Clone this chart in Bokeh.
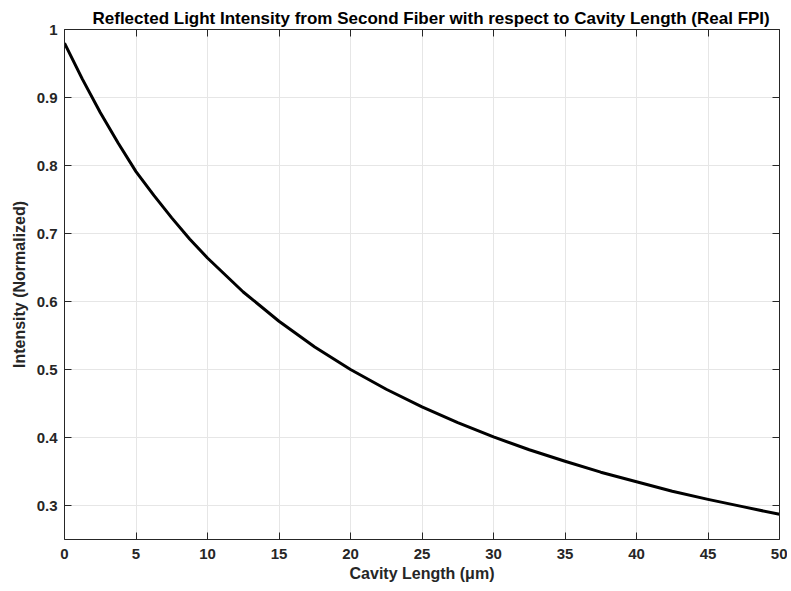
from bokeh.plotting import figure
from bokeh.models import LinearAxis, Range1d, FixedTicker, Title
from bokeh.embed import file_html
from bokeh.resources import INLINE

cavity_um = [0, 1.25, 2.5, 3.75, 5, 6.25, 7.5, 8.75, 10, 12.5, 15, 17.5, 20, 22.5, 25,
             27.5, 30, 32.5, 35, 37.5, 40, 42.5, 45, 47.5, 50]
intensity = [0.980, 0.927, 0.878, 0.833, 0.791, 0.756, 0.723, 0.692, 0.664, 0.614,
             0.571, 0.533, 0.500, 0.471, 0.445, 0.422, 0.401, 0.382, 0.365, 0.349,
             0.335, 0.321, 0.309, 0.298, 0.287]
x_ticks = [0, 5, 10, 15, 20, 25, 30, 35, 40, 45, 50]
y_ticks = [0.3, 0.4, 0.5, 0.6, 0.7, 0.8, 0.9, 1.0]

FONT = "Liberation Sans"
AX = "#262626"

p = figure(width=787, height=589, output_backend="svg", toolbar_location=None,
           x_range=Range1d(0, 50), y_range=Range1d(0.25, 1.0),
           min_border_left=64, min_border_right=8, min_border_top=29, min_border_bottom=50)
p.title = Title(text="Reflected Light Intensity from Second Fiber with respect to Cavity Length (Real FPI)",
                align="left", offset=28, text_font=FONT, text_font_size="17px",
                text_font_style="bold", text_color="#000000", standoff=3)
p.outline_line_color = None
p.background_fill_color = "white"

p.line(cavity_um, intensity, line_color="black", line_width=3, line_join="round")

for ax in (p.xaxis[0], p.yaxis[0]):
    ax.major_label_text_font = FONT
    ax.major_label_text_font_size = "15px"
    ax.major_label_text_font_style = "bold"
    ax.major_label_text_color = AX
    ax.axis_label_text_font = FONT
    ax.axis_label_text_font_size = "16px"
    ax.axis_label_text_font_style = "bold"
    ax.axis_label_text_color = AX
    ax.axis_line_color = AX
    ax.major_tick_line_color = AX
    ax.major_tick_in = 7
    ax.major_tick_out = 0
    ax.minor_tick_line_color = None

p.xaxis[0].ticker = FixedTicker(ticks=x_ticks)
p.yaxis[0].ticker = FixedTicker(ticks=y_ticks)
p.yaxis[0].major_label_overrides = {1.0: "1"}
p.xaxis[0].axis_label = "Cavity Length (\u03bcm)"
p.yaxis[0].axis_label = "Intensity (Normalized)"
p.xaxis[0].major_label_standoff = 9
p.xaxis[0].axis_label_standoff = 3
p.yaxis[0].major_label_standoff = 7
p.yaxis[0].axis_label_standoff = 6

top = LinearAxis(ticker=FixedTicker(ticks=x_ticks), major_label_text_font_size="0px",
                 major_label_text_color=None,
                 axis_line_color=AX, major_tick_line_color=AX, major_tick_in=7,
                 major_tick_out=0, minor_tick_line_color=None, major_label_standoff=0)
right = LinearAxis(ticker=FixedTicker(ticks=y_ticks), major_label_text_font_size="0px",
                   major_label_text_color=None,
                   axis_line_color=AX, major_tick_line_color=AX, major_tick_in=7,
                   major_tick_out=0, minor_tick_line_color=None, major_label_standoff=0)
p.add_layout(top, "above")
p.add_layout(right, "right")

p.xgrid.ticker = FixedTicker(ticks=x_ticks)
p.ygrid.ticker = FixedTicker(ticks=y_ticks)
p.grid.grid_line_color = "#e6e6e6"
p.grid.grid_line_width = 1

open("out.html", "w").write(file_html(p, INLINE))
